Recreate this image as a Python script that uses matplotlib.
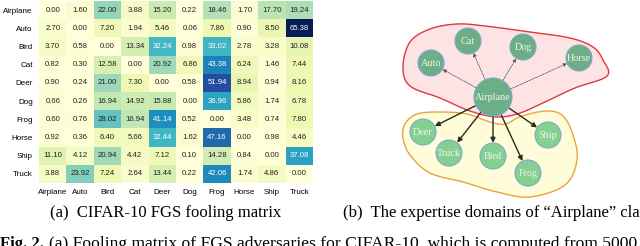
import numpy as np
import matplotlib.pyplot as plt
from matplotlib.patches import Polygon, Circle

classes = ["Airplane", "Auto", "Bird", "Cat", "Deer", "Dog", "Frog", "Horse", "Ship", "Truck"]
fooling = [
    [0.00, 1.60, 22.00, 3.88, 15.20, 0.22, 18.46, 1.70, 17.70, 19.24],
    [2.70, 0.00, 7.20, 1.94, 5.46, 0.06, 7.86, 0.90, 8.50, 65.38],
    [3.70, 0.58, 0.00, 13.34, 32.24, 0.98, 33.02, 2.78, 3.28, 10.08],
    [0.82, 0.30, 12.58, 0.00, 20.92, 6.86, 43.38, 6.24, 1.46, 7.44],
    [0.90, 0.24, 21.00, 7.30, 0.00, 0.58, 51.94, 8.94, 0.94, 8.16],
    [0.66, 0.26, 16.94, 14.92, 15.88, 0.00, 36.96, 5.86, 1.74, 6.78],
    [0.60, 0.76, 28.02, 16.94, 41.14, 0.52, 0.00, 3.48, 0.74, 7.80],
    [0.92, 0.36, 6.40, 5.66, 32.44, 1.62, 47.16, 0.00, 0.98, 4.46],
    [11.10, 4.12, 20.94, 4.42, 7.12, 0.10, 14.28, 0.84, 0.00, 37.08],
    [3.88, 23.92, 7.24, 2.64, 13.44, 0.22, 42.06, 1.74, 4.86, 0.00],
]

# expertise domains of "Airplane"
source = "Airplane"
weak_targets = ["Auto", "Cat", "Dog", "Horse"]
strong_targets = ["Deer", "Truck", "Bird", "Frog", "Ship"]

caption_a = "(a)  CIFAR-10 FGS fooling matrix"
caption_b = "(b)  The expertise domains of \u201cAirplane\u201d class"
fig_caption = "(a) Fooling matrix of FGS adversaries for CIFAR-10, which is computed from 5000 randomly"

# layout of the diagram, in pixels of the figure
node_xy = {"Airplane": (493, 97), "Cat": (468, 41), "Dog": (523, 47), "Auto": (431, 63),
           "Horse": (579, 58), "Deer": (423, 132), "Truck": (449, 153), "Bird": (493, 156),
           "Frog": (528, 173), "Ship": (548, 135)}
red_outline = [(403, 67), (410, 42), (430, 29), (457, 24), (485, 26), (530, 32), (570, 38),
               (593, 47), (603, 60), (607, 76), (575, 88), (547, 101), (520, 113), (497, 117),
               (470, 111), (440, 98), (410, 86)]
yellow_outline = [(405, 124), (417, 114), (440, 112), (467, 114), (490, 122), (505, 124),
                  (522, 116), (547, 111), (563, 116), (573, 135), (577, 160), (565, 185),
                  (530, 197), (497, 192), (463, 182), (430, 173), (410, 155), (403, 138)]


def smooth_closed(points, n=24):
    p = np.array(points, float)
    k = len(p)
    t = np.linspace(0, 1, n, endpoint=False)[:, None]
    segs = []
    for i in range(k):
        p0, p1, p2, p3 = p[i - 1], p[i], p[(i + 1) % k], p[(i + 2) % k]
        segs.append(0.5 * (2 * p1 + (p2 - p0) * t + (2 * p0 - 5 * p1 + 4 * p2 - p3) * t ** 2
                           + (3 * p1 - p0 - 3 * p2 + p3) * t ** 3))
    return np.vstack(segs)


fig = plt.figure(figsize=(6.4, 2.46), dpi=100)
W, H = 640, 246

# heatmap
ax = fig.add_axes([39 / W, 1 - 183 / H, 274 / W, 182 / H])
data = np.array(fooling)
ax.imshow(data, cmap="YlGnBu", vmin=0, vmax=data.max(), aspect="auto")
for i in range(len(classes)):
    for j in range(len(classes)):
        v = data[i, j]
        ax.text(j, i, f"{v:.2f}", ha="center", va="center", fontsize=5.6,
                family="Liberation Sans", color="white" if v > 30 else "#222222")
ax.set_xticks(range(len(classes)))
ax.set_xticklabels(classes, fontsize=5.8, family="Liberation Sans")
ax.set_yticks(range(len(classes)))
ax.set_yticklabels(classes, fontsize=5.8, family="Liberation Sans")
ax.tick_params(length=0, pad=4.5)
for s in ax.spines.values():
    s.set_visible(False)

# overlay in pixel coordinates
ov = fig.add_axes([0, 0, 1, 1])
ov.set_xlim(0, W)
ov.set_ylim(H, 0)
ov.axis("off")

ov.add_patch(Polygon(smooth_closed(yellow_outline), closed=True, facecolor="#fefcd9",
                     edgecolor="#e8a43a", lw=1.0))
ov.add_patch(Polygon(smooth_closed(red_outline), closed=True, facecolor="#fde3e3",
                     edgecolor="#e0393b", lw=1.0))

sx, sy = node_xy[source]
for name in weak_targets + strong_targets:
    tx, ty = node_xy[name]
    strong = name in strong_targets
    ov.annotate("", xy=(tx, ty), xytext=(sx, sy),
                arrowprops=dict(arrowstyle="-|>", shrinkA=14, shrinkB=9.5,
                                lw=1.0 if strong else 0.6,
                                linestyle="-" if strong else (0, (1.5, 1.5)),
                                color="#2b2b18" if strong else "#555555",
                                mutation_scale=7 if strong else 5))

for name, (x, y) in node_xy.items():
    r = 19 if name == source else 13
    fc = "#84d091" if name in strong_targets else "#6cae86"
    ov.add_patch(Circle((x, y), r, facecolor=fc, edgecolor="#7ea9cc", lw=0.8, zorder=3))
    ov.text(x, y + 0.5, name, ha="center", va="center", fontsize=7.3, color="#f4f4ea",
            family="Liberation Serif", zorder=4)

# captions
ov.text(166, 213, caption_a, ha="center", va="center", fontsize=12, family="Liberation Serif")
ov.text(343, 213, caption_b, ha="left", va="center", fontsize=12, family="Liberation Serif")
ov.text(0, 247.5, "Fig. 2.", ha="left", va="baseline", fontsize=12, family="Liberation Serif",
        weight="bold")
ov.text(49, 247.5, fig_caption, ha="left", va="baseline", fontsize=12.6, family="Liberation Serif")

fig.savefig("out.png", dpi=100)
